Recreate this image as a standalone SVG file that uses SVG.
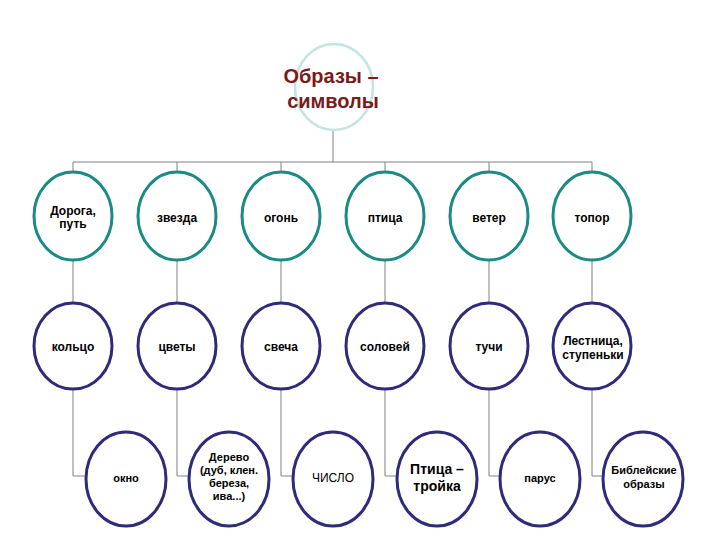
<svg xmlns="http://www.w3.org/2000/svg" width="720" height="540" viewBox="0 0 720 540">
<style>
.c{fill:none;stroke:#808080;stroke-width:1}
.top{fill:#fff;stroke:#c4e4e0;stroke-width:2.5}
.r1{fill:#fff;stroke:#1b8b84;stroke-width:3}
.r2{fill:#fff;stroke:#2f2b7a;stroke-width:3}
text{font-family:"Liberation Sans",Arial,sans-serif;text-anchor:middle;fill:#000}
.t{font-size:12px;font-weight:bold}
.s{font-size:11px;font-weight:bold}
.title{font-size:20px;font-weight:bold;fill:#7b1a1a}
</style>
<rect width="720" height="540" fill="#fff"/>
<g id="connectors">
<path class="c" d="M333 130V162M73 162H592M73 162V172M177 162V172M281 162V172M385 162V172M489 162V172M592 162V172"/>
<path class="c" d="M73 260V303M177 260V303M281 260V303M385 260V303M489 260V303M592 260V303"/>
<path class="c" d="M73 390V476H86M177 390V476H189M281 390V476H293M385 390V476H397M489 390V476H500M592 390V476H603"/>
</g>
<g id="root"><ellipse class="top" cx="334" cy="87" rx="39" ry="43"/><text class="title" x="331" y="83">Образы –</text><text class="title" x="333" y="108">символы</text></g>
<g id="n1"><ellipse class="r1" cx="73" cy="216" rx="39" ry="44"/><text class="t" x="73" y="215">Дорога,</text><text class="t" x="73" y="228">путь</text></g>
<g id="n2"><ellipse class="r1" cx="177" cy="216" rx="39" ry="44"/><text class="t" x="177" y="222">звезда</text></g>
<g id="n3"><ellipse class="r1" cx="281" cy="216" rx="39" ry="44"/><text class="t" x="281" y="222">огонь</text></g>
<g id="n4"><ellipse class="r1" cx="385" cy="216" rx="39" ry="44"/><text class="t" x="385" y="222">птица</text></g>
<g id="n5"><ellipse class="r1" cx="489" cy="216" rx="39" ry="44"/><text class="t" x="489" y="222">ветер</text></g>
<g id="n6"><ellipse class="r1" cx="592" cy="216" rx="39" ry="44"/><text class="t" x="592" y="222">топор</text></g>
<g id="m1"><ellipse class="r2" cx="73" cy="346" rx="39" ry="43"/><text class="t" x="73" y="351">кольцо</text></g>
<g id="m2"><ellipse class="r2" cx="177" cy="346" rx="39" ry="43"/><text class="t" x="177" y="351">цветы</text></g>
<g id="m3"><ellipse class="r2" cx="281" cy="346" rx="39" ry="43"/><text class="t" x="281" y="351">свеча</text></g>
<g id="m4"><ellipse class="r2" cx="385" cy="346" rx="39" ry="43"/><text class="t" x="385" y="351">соловей</text></g>
<g id="m5"><ellipse class="r2" cx="489" cy="346" rx="39" ry="43"/><text class="t" x="489" y="351">тучи</text></g>
<g id="m6"><ellipse class="r2" cx="592" cy="346" rx="39" ry="43"/><text class="t" x="593" y="345">Лестница,</text><text class="t" x="593" y="359">ступеньки</text></g>
<g id="b1"><ellipse class="r2" cx="126" cy="479" rx="40" ry="47"/><text class="s" x="126" y="482">окно</text></g>
<g id="b2"><ellipse class="r2" cx="229" cy="479" rx="40" ry="47"/><text class="s" x="229" y="461">Дерево</text><text class="s" x="229" y="474">(дуб, клен.</text><text class="s" x="229" y="487">береза,</text><text class="s" x="229" y="500">ива...)</text></g>
<g id="b3"><ellipse class="r2" cx="333" cy="479" rx="40" ry="47"/><text x="333" y="482" font-size="12">ЧИСЛО</text></g>
<g id="b4"><ellipse class="r2" cx="437" cy="479" rx="40" ry="47"/><text x="437" y="474" font-size="14" font-weight="bold">Птица –</text><text x="437" y="491" font-size="14" font-weight="bold">тройка</text></g>
<g id="b5"><ellipse class="r2" cx="540" cy="479" rx="40" ry="47"/><text class="s" x="540" y="482">парус</text></g>
<g id="b6"><ellipse class="r2" cx="643" cy="479" rx="40" ry="47"/><text class="s" x="644" y="474">Библейские</text><text class="s" x="644" y="488">образы</text></g>
</svg>
